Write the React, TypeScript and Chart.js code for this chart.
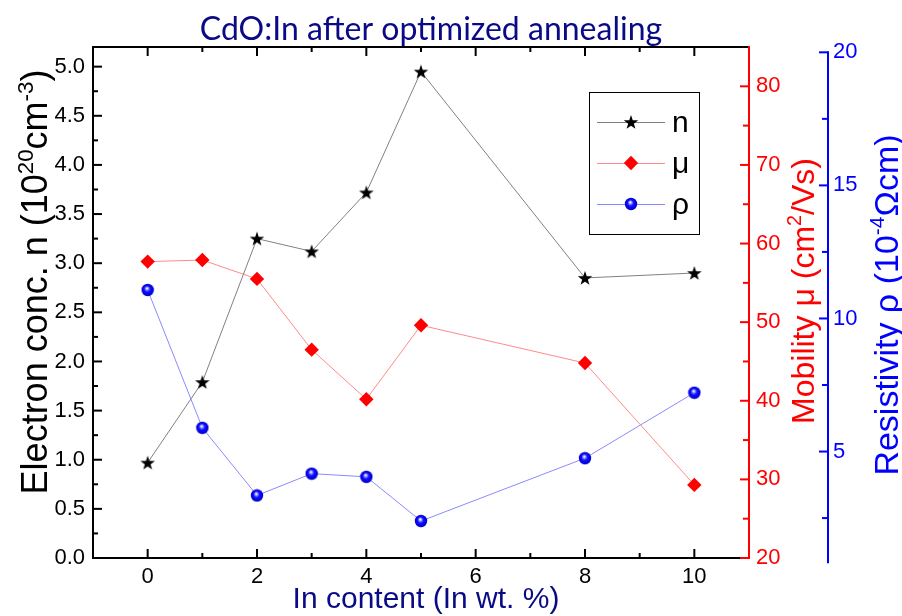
import React, { useEffect, useRef } from 'react';
import { Chart, registerables } from 'chart.js';

Chart.register(...registerables);

// In content (wt. %) and the three measured quantities
const inContent = [0, 1, 2, 3, 4, 5, 8, 10];
const electronConc = [0.97, 1.79, 3.25, 3.12, 3.72, 4.95, 2.85, 2.9]; // 10^20 cm^-3
const mobility = [57.7, 57.9, 55.5, 46.5, 40.2, 49.6, 44.8, 29.3]; // cm^2/Vs
const resistivity = [11.07, 5.89, 3.35, 4.17, 4.05, 2.39, 4.75, 7.21]; // 10^-4 Ohm cm

// Axis ticks
const xMajorTicks = [0, 2, 4, 6, 8, 10];
const xMinorTicks = [1, 3, 5, 7, 9];
const nMajorTicks = [0, 0.5, 1, 1.5, 2, 2.5, 3, 3.5, 4, 4.5, 5];
const nMinorTicks = [0.25, 0.75, 1.25, 1.75, 2.25, 2.75, 3.25, 3.75, 4.25, 4.75];
const muMajorTicks = [20, 30, 40, 50, 60, 70, 80];
const muMinorTicks = [25, 35, 45, 55, 65, 75];
const rhoMajorTicks = [5, 10, 15, 20];
const rhoMinorTicks = [2.5, 7.5, 12.5, 17.5];

// Texts
const chartTitle = 'CdO:In after optimized annealing';
const xTitle = 'In content (In wt. %)';
type Seg = [string, boolean];
const nTitle: Seg[] = [['Electron conc. n (10', false], ['20', true], ['cm', false], ['-3', true], [')', false]];
const muTitle: Seg[] = [['Mobility \u03bc (cm', false], ['2', true], ['/Vs)', false]];
const rhoTitle: Seg[] = [['Resistivity \u03c1 (10', false], ['-4', true], ['\u03a9cm)', false]];
const legendLabels = ['n', '\u03bc', '\u03c1'];

const SANS = '"Liberation Sans", Arial, sans-serif';
const NAVY = '#0a0a86';

function makeStar(): HTMLCanvasElement {
  const c = document.createElement('canvas');
  c.width = 18;
  c.height = 18;
  const g = c.getContext('2d')!;
  const cx = 9, cy = 9.7, R = 7.6, r = 3.0;
  g.beginPath();
  for (let i = 0; i < 10; i++) {
    const a = -Math.PI / 2 + (i * Math.PI) / 5;
    const rad = i % 2 === 0 ? R : r;
    const px = cx + rad * Math.cos(a);
    const py = cy + rad * Math.sin(a);
    if (i === 0) g.moveTo(px, py);
    else g.lineTo(px, py);
  }
  g.closePath();
  g.fillStyle = '#000';
  g.fill();
  return c;
}

function makeSphere(): HTMLCanvasElement {
  const c = document.createElement('canvas');
  c.width = 14;
  c.height = 14;
  const g = c.getContext('2d')!;
  const grad = g.createRadialGradient(6.2, 5.2, 0.3, 7, 7, 6.4);
  grad.addColorStop(0, '#ffffff');
  grad.addColorStop(0.18, '#9a9aff');
  grad.addColorStop(0.45, '#1010ff');
  grad.addColorStop(0.85, '#0000e0');
  grad.addColorStop(1, '#00009a');
  g.beginPath();
  g.arc(7, 7, 6.2, 0, Math.PI * 2);
  g.fillStyle = grad;
  g.fill();
  return c;
}

function drawRich(ctx: CanvasRenderingContext2D, segs: Seg[], size: number, color: string) {
  const supSize = size * 0.62;
  const widths = segs.map(([t, sup]) => {
    ctx.font = `${sup ? supSize : size}px ${SANS}`;
    return ctx.measureText(t).width;
  });
  const total = widths.reduce((a, b) => a + b, 0);
  let x = -total / 2;
  ctx.fillStyle = color;
  ctx.textAlign = 'left';
  ctx.textBaseline = 'alphabetic';
  segs.forEach(([t, sup], i) => {
    ctx.font = `${sup ? supSize : size}px ${SANS}`;
    ctx.fillText(t, x, sup ? -size * 0.4 : 0);
    x += widths[i];
  });
}

function rotatedTitle(ctx: CanvasRenderingContext2D, segs: Seg[], baseX: number, cy: number, size: number, color: string) {
  ctx.save();
  ctx.translate(baseX, cy);
  ctx.rotate(-Math.PI / 2);
  drawRich(ctx, segs, size, color);
  ctx.restore();
}

export default function App() {
  const ref = useRef<HTMLCanvasElement>(null);

  useEffect(() => {
    const canvas = ref.current;
    if (!canvas) return;
    const star = makeStar();
    const sphere = makeSphere();

    // axis frame, inward ticks and the offset resistivity axis
    const framePlugin = {
      id: 'frame',
      afterDraw(chart: any) {
        const ctx: CanvasRenderingContext2D = chart.ctx;
        const { x, y, mu, rho } = chart.scales;
        const left = x.getPixelForValue(-1);
        const right = x.getPixelForValue(11);
        const top = y.getPixelForValue(5.2);
        const bottom = y.getPixelForValue(0);
        ctx.save();
        ctx.lineCap = 'butt';
        ctx.lineWidth = 2;
        const line = (x1: number, y1: number, x2: number, y2: number, c: string) => {
          ctx.strokeStyle = c;
          ctx.beginPath();
          ctx.moveTo(x1, y1);
          ctx.lineTo(x2, y2);
          ctx.stroke();
        };
        // black frame
        line(left - 1, top, right, top, '#000');
        line(left - 1, bottom, right, bottom, '#000');
        line(left, top, left, bottom, '#000');
        // x ticks, bottom and top
        xMajorTicks.forEach((v) => {
          const px = x.getPixelForValue(v);
          line(px, bottom, px, bottom - 9, '#000');
          line(px, top, px, top + 9, '#000');
        });
        xMinorTicks.forEach((v) => {
          const px = x.getPixelForValue(v);
          line(px, bottom, px, bottom - 5, '#000');
          line(px, top, px, top + 5, '#000');
        });
        // left axis ticks
        nMajorTicks.forEach((v) => {
          const py = y.getPixelForValue(v);
          line(left, py, left + 9, py, '#000');
        });
        nMinorTicks.forEach((v) => {
          const py = y.getPixelForValue(v);
          line(left, py, left + 5, py, '#000');
        });
        // red mobility axis on the right frame
        line(right, top - 1, right, bottom + 1, '#ff0000');
        muMajorTicks.forEach((v) => {
          const py = mu.getPixelForValue(v);
          line(right, py, right - 9, py, '#ff0000');
        });
        muMinorTicks.forEach((v) => {
          const py = mu.getPixelForValue(v);
          line(right, py, right - 6, py, '#ff0000');
        });
        // blue resistivity axis, offset to the right
        const bx = rho.left;
        line(bx, rho.getPixelForValue(20) - 1, bx, rho.getPixelForValue(0.8), '#0000ff');
        rhoMajorTicks.forEach((v) => {
          const py = rho.getPixelForValue(v);
          line(bx, py, bx - 9, py, '#0000ff');
        });
        rhoMinorTicks.forEach((v) => {
          const py = rho.getPixelForValue(v);
          line(bx, py, bx - 6, py, '#0000ff');
        });
        ctx.restore();
      },
    };

    // titles and the boxed legend
    const textPlugin = {
      id: 'texts',
      afterDraw(chart: any) {
        const ctx: CanvasRenderingContext2D = chart.ctx;
        ctx.save();
        ctx.fillStyle = NAVY;
        ctx.textAlign = 'center';
        ctx.textBaseline = 'alphabetic';
        ctx.font = '32px Lato, "Open Sans", sans-serif';
        ctx.fillText(chartTitle, 431, 40);
        ctx.font = `30px ${SANS}`;
        ctx.fillText(xTitle, 426, 608);

        rotatedTitle(ctx, nTitle, 47, 282, 36, '#000');
        rotatedTitle(ctx, muTitle, 814, 291, 32, '#ff0000');
        rotatedTitle(ctx, rhoTitle, 898, 305, 34, '#0000ff');

        // legend
        const bx = 589, by = 92, bw = 110, bh = 142;
        ctx.fillStyle = '#fff';
        ctx.fillRect(bx, by, bw, bh);
        ctx.strokeStyle = '#000';
        ctx.lineWidth = 1;
        ctx.strokeRect(bx + 0.5, by + 0.5, bw, bh);
        const rows = [122, 163, 204];
        const ds = chart.data.datasets;
        rows.forEach((ry, i) => {
          ctx.strokeStyle = ds[i].borderColor;
          ctx.lineWidth = 1;
          ctx.beginPath();
          ctx.moveTo(597, ry + 0.5);
          ctx.lineTo(665, ry + 0.5);
          ctx.stroke();
          const mx = 631;
          if (i === 0) ctx.drawImage(star, mx - star.width / 2, ry - star.height / 2);
          if (i === 1) {
            ctx.fillStyle = '#ff0000';
            ctx.beginPath();
            ctx.moveTo(mx - 7.2, ry);
            ctx.lineTo(mx, ry - 7.2);
            ctx.lineTo(mx + 7.2, ry);
            ctx.lineTo(mx, ry + 7.2);
            ctx.closePath();
            ctx.fill();
          }
          if (i === 2) ctx.drawImage(sphere, mx - sphere.width / 2, ry - sphere.height / 2);
          ctx.fillStyle = '#000';
          ctx.font = `30px ${SANS}`;
          ctx.textAlign = 'left';
          ctx.fillText(legendLabels[i], 672, ry + 10);
        });
        ctx.restore();
      },
    };

    const tickFont = { size: 22, family: SANS };
    const chart = new Chart(canvas, {
      type: 'line',
      data: {
        datasets: [
          {
            label: legendLabels[0],
            data: inContent.map((v, i) => ({ x: v, y: electronConc[i] })),
            yAxisID: 'y',
            borderColor: '#808080',
            borderWidth: 1,
            pointStyle: star as any,
            pointRadius: 7,
          },
          {
            label: legendLabels[1],
            data: inContent.map((v, i) => ({ x: v, y: mobility[i] })),
            yAxisID: 'mu',
            borderColor: '#ff8a8a',
            borderWidth: 1,
            pointStyle: 'rectRot',
            pointRadius: 7.2,
            pointBackgroundColor: '#ff0000',
            pointBorderColor: '#ff0000',
            pointBorderWidth: 0,
          },
          {
            label: legendLabels[2],
            data: inContent.map((v, i) => ({ x: v, y: resistivity[i] })),
            yAxisID: 'rho',
            borderColor: '#8a8aff',
            borderWidth: 1,
            pointStyle: sphere as any,
            pointRadius: 6,
          },
        ],
      },
      options: {
        responsive: false,
        maintainAspectRatio: false,
        animation: false,
        layout: { padding: { top: 47, left: 0, right: 0, bottom: 0 } },
        plugins: {
          legend: { display: false },
          tooltip: { enabled: false },
        },
        scales: {
          x: {
            type: 'linear',
            position: 'bottom',
            min: -1,
            max: 11,
            grid: { display: false, drawTicks: false },
            border: { display: false },
            afterBuildTicks: (s: any) => {
              s.ticks = xMajorTicks.map((value) => ({ value }));
            },
            afterFit: (s: any) => {
              s.height = 58;
            },
            ticks: { autoSkip: false, maxRotation: 0, padding: 6, color: '#000', font: tickFont },
          },
          y: {
            type: 'linear',
            position: 'left',
            min: 0,
            max: 5.2,
            grid: { display: false, drawTicks: false },
            border: { display: false },
            afterBuildTicks: (s: any) => {
              s.ticks = nMajorTicks.map((value) => ({ value }));
            },
            afterFit: (s: any) => {
              s.width = 93;
            },
            ticks: {
              autoSkip: false,
              padding: 8,
              color: '#000',
              font: tickFont,
              callback: (v: any) => Number(v).toFixed(1),
            },
          },
          mu: {
            type: 'linear',
            position: 'right',
            weight: 0,
            min: 20,
            max: 85,
            grid: { display: false, drawTicks: false },
            border: { display: false },
            afterBuildTicks: (s: any) => {
              s.ticks = muMajorTicks.map((value) => ({ value }));
            },
            afterFit: (s: any) => {
              s.width = 79;
            },
            ticks: { autoSkip: false, padding: 7, color: '#ff0000', font: tickFont },
          },
          rho: {
            type: 'linear',
            position: 'right',
            weight: 1,
            min: 1,
            max: 20.2,
            grid: { display: false, drawTicks: false },
            border: { display: false },
            afterBuildTicks: (s: any) => {
              s.ticks = rhoMajorTicks.map((value) => ({ value }));
            },
            afterFit: (s: any) => {
              s.width = 74;
            },
            ticks: { autoSkip: false, padding: 5, color: '#0000ff', font: tickFont },
          },
        },
      },
      plugins: [framePlugin, textPlugin],
    } as any);

    return () => chart.destroy();
  }, []);

  return (
    <div style={{ position: 'absolute', left: 0, top: 0, width: 902, height: 616, background: '#fff' }}>
      <canvas ref={ref} width={902} height={616} style={{ display: 'block', width: 902, height: 616 }} />
    </div>
  );
}
